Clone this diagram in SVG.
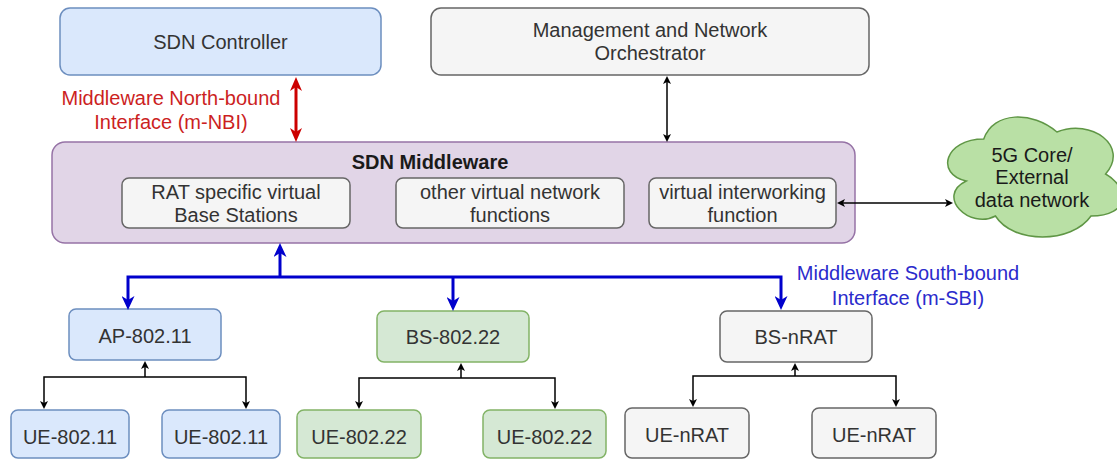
<svg xmlns="http://www.w3.org/2000/svg" width="1117" height="459" viewBox="0 0 1117 459">
  <style>
    text { font-family: "Liberation Sans", Arial, sans-serif; font-size: 20px; fill: #333333; text-anchor: middle; }
    .blue-box { fill: #dae8fc; stroke: #6c8ebf; stroke-width: 1.5; }
    .green-box { fill: #d5e8d4; stroke: #82b366; stroke-width: 1.5; }
    .grey-box { fill: #f5f5f5; stroke: #666666; stroke-width: 1.5; }
    .mw-box { fill: #e1d5e7; stroke: #9673a6; stroke-width: 1.5; }
    .cloud { fill: #b9e0a5; stroke: #5f9645; stroke-width: 1.5; }
    .link { fill: none; stroke: #000000; stroke-width: 1.5; }
    .nbi { fill: none; stroke: #cc0000; stroke-width: 3; }
    .sbi { fill: none; stroke: #0000cc; stroke-width: 3; }
    .nbi-label { fill: #cc1f1f; }
    .sbi-label { fill: #2b2bcc; }
    .title { font-weight: bold; fill: #1a1a1a; }
    .dark { fill: #1a1a1a; }
  </style>
  <defs>
    <marker id="head-black" markerUnits="userSpaceOnUse" markerWidth="8" markerHeight="8" viewBox="0 0 8 8" refX="3" refY="4" orient="auto-start-reverse">
      <path d="M0,0 L8,4 L0,8 L2,4 Z" fill="#000000"/>
    </marker>
    <marker id="head-red" markerUnits="userSpaceOnUse" markerWidth="14" markerHeight="12" viewBox="0 0 14 12" refX="5" refY="6" orient="auto-start-reverse">
      <path d="M0,0 L14,6 L0,12 L4,6 Z" fill="#cc0000"/>
    </marker>
    <marker id="head-blue" markerUnits="userSpaceOnUse" markerWidth="14" markerHeight="13" viewBox="0 0 14 13" refX="5" refY="6.5" orient="auto-start-reverse">
      <path d="M0,0 L14,6.5 L0,13 L4,6.5 Z" fill="#0000cc"/>
    </marker>
  </defs>

  <!-- interface labels -->
  <g id="label-nbi">
    <text class="nbi-label" x="171" y="105">Middleware North-bound</text>
    <text class="nbi-label" x="171" y="129">Interface (m-NBI)</text>
  </g>
  <g id="label-sbi">
    <text class="sbi-label" x="908" y="280">Middleware South-bound</text>
    <text class="sbi-label" x="908" y="305">Interface (m-SBI)</text>
  </g>

  <g id="sdn-controller">
    <rect class="blue-box" x="60" y="8" width="321" height="67" rx="10"/>
    <text x="220.5" y="49">SDN Controller</text>
  </g>

  <g id="orchestrator">
    <rect class="grey-box" x="431" y="8" width="438" height="67" rx="10"/>
    <text x="650" y="37">Management and Network</text>
    <text x="650" y="60">Orchestrator</text>
  </g>

  <g id="sdn-middleware">
    <rect class="mw-box" x="52" y="142" width="803" height="101" rx="13"/>
    <text class="title" x="430" y="169">SDN Middleware</text>
  </g>

  <g id="virtual-bs">
    <rect class="grey-box" x="122" y="178" width="228" height="50" rx="7"/>
    <text x="236" y="199">RAT specific virtual</text>
    <text x="236" y="222">Base Stations</text>
  </g>

  <g id="virtual-nf">
    <rect class="grey-box" x="396" y="178" width="228" height="50" rx="7"/>
    <text x="510" y="199">other virtual network</text>
    <text x="510" y="222">functions</text>
  </g>

  <g id="virtual-iwf">
    <rect class="grey-box" x="649" y="178" width="187" height="50" rx="7"/>
    <text x="742.5" y="199">virtual interworking</text>
    <text x="742.5" y="222">function</text>
  </g>

  <g id="core-network">
    <path class="cloud" d="M983.75,139 C944.75,139 935,174 966.2,181 C935,196.4 970.1,230 995.45,216 C1013,244 1071.5,244 1091,216 C1130,216 1130,188 1105.6,174 C1130,146 1091,118 1056.9,132 C1032.5,111 993.5,111 983.75,139 Z"/>
    <text class="dark" x="1032" y="162">5G Core/</text>
    <text class="dark" x="1032" y="184">External</text>
    <text class="dark" x="1032" y="207">data network</text>
  </g>

  <g id="ap-80211">
    <rect class="blue-box" x="69" y="309" width="152" height="51" rx="7"/>
    <text x="145" y="343">AP-802.11</text>
  </g>

  <g id="bs-80222">
    <rect class="green-box" x="377" y="311" width="152" height="51" rx="7"/>
    <text x="453" y="344">BS-802.22</text>
  </g>

  <g id="bs-nrat">
    <rect class="grey-box" x="720" y="311" width="152" height="51" rx="7"/>
    <text x="796" y="344">BS-nRAT</text>
  </g>

  <g id="ue-80211-a">
    <rect class="blue-box" x="11" y="410" width="118" height="48" rx="7"/>
    <text x="70" y="444">UE-802.11</text>
  </g>
  <g id="ue-80211-b">
    <rect class="blue-box" x="162" y="410" width="118" height="48" rx="7"/>
    <text x="221" y="444">UE-802.11</text>
  </g>

  <g id="ue-80222-a">
    <rect class="green-box" x="297" y="410" width="124" height="48" rx="7"/>
    <text x="359" y="444">UE-802.22</text>
  </g>
  <g id="ue-80222-b">
    <rect class="green-box" x="483" y="410" width="123" height="48" rx="7"/>
    <text x="544.5" y="444">UE-802.22</text>
  </g>

  <g id="ue-nrat-a">
    <rect class="grey-box" x="625" y="408" width="124" height="50" rx="7"/>
    <text x="687" y="442">UE-nRAT</text>
  </g>
  <g id="ue-nrat-b">
    <rect class="grey-box" x="812" y="408" width="124" height="50" rx="7"/>
    <text x="874" y="442">UE-nRAT</text>
  </g>

  <!-- connectors, drawn last so arrowheads sit on top of the boxes -->
  <g id="connectors">
    <!-- northbound interface -->
    <path class="nbi" d="M296,86 L296,133" marker-start="url(#head-red)" marker-end="url(#head-red)"/>
    <!-- orchestrator link -->
    <path class="link" d="M667,81 L667,137" marker-start="url(#head-black)" marker-end="url(#head-black)"/>
    <!-- interworking to core network -->
    <path class="link" d="M842,203 L948,203" marker-start="url(#head-black)" marker-end="url(#head-black)"/>
    <!-- southbound interface bus -->
    <path class="sbi" d="M280,277 L280,252" marker-end="url(#head-blue)"/>
    <path class="sbi" d="M128,301 L128,277 L781,277 L781,301" marker-start="url(#head-blue)" marker-end="url(#head-blue)"/>
    <path class="sbi" d="M453,277 L453,302" marker-end="url(#head-blue)"/>
    <!-- AP-802.11 tree -->
    <path class="link" d="M145,377 L145,366" marker-end="url(#head-black)"/>
    <path class="link" d="M44,404 L44,377 L246,377 L246,404" marker-start="url(#head-black)" marker-end="url(#head-black)"/>
    <!-- BS-802.22 tree -->
    <path class="link" d="M461,378 L461,368" marker-end="url(#head-black)"/>
    <path class="link" d="M359,404 L359,378 L555,378 L555,404" marker-start="url(#head-black)" marker-end="url(#head-black)"/>
    <!-- BS-nRAT tree -->
    <path class="link" d="M795,376 L795,368" marker-end="url(#head-black)"/>
    <path class="link" d="M693,402 L693,376 L896,376 L896,402" marker-start="url(#head-black)" marker-end="url(#head-black)"/>
  </g>
</svg>
